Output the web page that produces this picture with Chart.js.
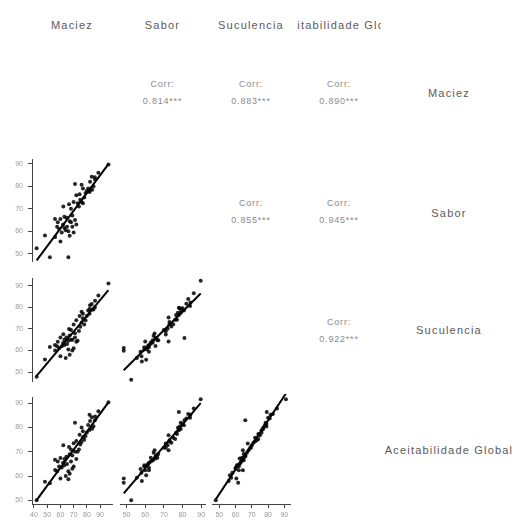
<!DOCTYPE html>
<html>
<head>
<meta charset="utf-8">
<script src="https://cdn.jsdelivr.net/npm/chart.js@4.4.0/dist/chart.umd.min.js"></script>
<style>
body { margin:0; background:#fff; width:516px; height:523px; position:relative; overflow:hidden; font-family:"Liberation Sans", Arial, sans-serif; }
.lab { position:absolute; color:#5a5a5a; font-size:11px; letter-spacing:1.2px; line-height:14px; white-space:nowrap; overflow:hidden; display:flex; justify-content:center; }
.corr { position:absolute; color:#8a8a8a; font-size:9px; letter-spacing:0.8px; line-height:17px; white-space:nowrap; text-align:center; width:80px; }
.panel { position:absolute; }
</style>
</head>
<body>
<script>
// variables in the pairs plot
var varNames = ['Maciez', 'Sabor', 'Suculencia', 'Aceitabilidade Global'];

var maciez = [42, 48.3, 52, 66, 60, 64, 67, 69, 56, 59, 61, 63, 65, 62, 58, 55.9, 66, 68, 70, 72,
    64.5, 67, 69, 71, 62.2, 60, 73, 74, 66.5, 75, 76, 78, 72, 77, 74.5, 79, 71, 80, 82, 76,
    84, 81, 85, 82, 82.4, 86, 83.7, 86.2, 88.7, 96.3, 70, 77, 63, 57.5, 68];
var sabor = [52.5, 58.2, 48.5, 48.5, 55.5, 60.5, 58, 62, 57.5, 61, 59.5, 61.5, 62, 63, 64, 65.5, 60, 64, 59.5, 63,
    66, 64.5, 67, 65, 71, 65.5, 72.5, 71, 72, 74, 73, 75, 76, 72.5, 76.5, 77, 81, 78, 77.5, 80.7,
    78.5, 79, 80, 78, 82, 84, 84.2, 83, 86, 89.7, 73, 79, 66.5, 62, 70];
var suculencia = [47.8, 55.8, 61.6, 60.5, 57.3, 56.5, 58, 60, 60, 61, 62, 62.5, 63, 63.5, 64, 62.5, 64.5, 65, 61, 64,
    66, 67, 65, 68, 67.5, 66, 64.5, 69, 70, 71, 73, 72, 74, 75, 76, 74, 66, 76, 77, 78,
    79, 78.5, 79, 79.2, 81, 80, 81.5, 83, 85.5, 91, 72, 77, 65, 62, 69.5];
var aceitabilidade = [50, 57.7, 57, 58.7, 59, 60, 61, 63, 62.5, 64, 63.5, 64.5, 65, 65.5, 66, 66.7, 62, 66, 64, 67,
    68, 69, 68.5, 70, 72.7, 67.5, 70, 71, 72, 73, 74, 75, 74.5, 76, 77, 76.5, 82, 78, 79, 80,
    79.5, 81, 80.5, 85.3, 82.7, 83, 84.2, 84.5, 86.7, 90.4, 73.5, 78.5, 67, 62, 71];

// upper triangle correlations
var corrRows = [0, 0, 0, 1, 1, 2];
var corrCols = [1, 2, 3, 2, 3, 3];
var corrValues = ['0.814***', '0.883***', '0.890***', '0.855***', '0.945***', '0.922***'];

// axis range per variable
var axisMin = [38.5, 46.5, 45.5, 48.5];
var axisMax = [99, 92, 93.5, 92.5];

var allVars = [maciez, sabor, suculencia, aceitabilidade];

// layout of the grid
var colLeft = [32, 120, 212, 297];
var colWidth = [80, 85, 78, 84];
var rowTop = [40, 156, 275, 394];
var rowHeight = [110, 109, 110, 110];
var headerY = 25;
var rowLabelY = [93, 213, 330, 450];
var corrY = [84, 203, 322];

function addDiv(cls, text, left, top, width) {
    var d = document.createElement('div');
    d.className = cls;
    d.textContent = text;
    d.style.left = left + 'px';
    d.style.top = top + 'px';
    if (width) d.style.width = width + 'px';
    document.body.appendChild(d);
    return d;
}

function fitLine(xs, ys) {
    var n = xs.length, mx = 0, my = 0, sxy = 0, sxx = 0;
    for (var i = 0; i < n; i++) { mx += xs[i]; my += ys[i]; }
    mx /= n; my /= n;
    for (var j = 0; j < n; j++) {
        sxy += (xs[j] - mx) * (ys[j] - my);
        sxx += (xs[j] - mx) * (xs[j] - mx);
    }
    var b = sxy / sxx, a = my - b * mx;
    var x0 = Math.min.apply(null, xs), x1 = Math.max.apply(null, xs);
    return [{x: x0, y: a + b * x0}, {x: x1, y: a + b * x1}];
}

function makePanel(row, col) {
    var PAD = 6;
    var L = col == 0 ? 33 : 0;
    var B = row == 3 ? 20 : 0;
    var w = colWidth[col], h = rowHeight[row];

    var div = document.createElement('div');
    div.className = 'panel';
    div.style.left = (colLeft[col] - L - PAD) + 'px';
    div.style.top = (rowTop[row] - PAD) + 'px';
    var cv = document.createElement('canvas');
    cv.width = w + L + 2 * PAD;
    cv.height = h + B + 2 * PAD;
    div.appendChild(cv);
    document.body.appendChild(div);

    var xs = allVars[col], ys = allVars[row];
    var pts = xs.map(function(v, i) { return {x: v, y: ys[i]}; });

    var axisStyle = {
        border: {display: true, color: '#444', width: 1},
        grid: {drawOnChartArea: false, drawTicks: true, tickLength: 4, color: '#444'},
    };

    new Chart(cv.getContext('2d'), {
        type: 'scatter',
        data: {
            datasets: [{
                type: 'line',
                data: fitLine(xs, ys),
                borderColor: '#000',
                borderWidth: 2,
                pointRadius: 0,
                fill: false
            }, {
                data: pts,
                backgroundColor: 'rgba(0,0,0,0.85)',
                borderWidth: 0,
                pointRadius: 2
            }]
        },
        options: {
            responsive: false,
            animation: false,
            devicePixelRatio: 1,
            layout: {padding: PAD},
            plugins: {legend: {display: false}, tooltip: {enabled: false}},
            scales: {
                x: Object.assign({
                    type: 'linear',
                    display: row == 3,
                    min: axisMin[col], max: axisMax[col],
                    afterFit: function(s) { s.height = B; },
                    ticks: {stepSize: 10, includeBounds: false, padding: 3, color: '#999',
                        font: {size: 7, family: 'Liberation Sans'}, maxRotation: 0, autoSkip: false}
                }, axisStyle),
                y: Object.assign({
                    type: 'linear',
                    display: col == 0,
                    min: axisMin[row], max: axisMax[row],
                    afterFit: function(s) { s.width = L; },
                    ticks: {stepSize: 10, includeBounds: false, padding: 5, color: '#999',
                        font: {size: 7, family: 'Liberation Sans'}}
                }, axisStyle)
            }
        }
    });
}

// column headers
for (var c = 0; c < 4; c++) {
    addDiv('lab', varNames[c], colLeft[c], headerY - 7, colWidth[c]);
}
// row labels on the right
for (var r = 0; r < 4; r++) {
    addDiv('lab', varNames[r], 382, rowLabelY[r] - 7, 134);
}
// correlations
for (var k = 0; k < corrValues.length; k++) {
    var cc = corrCols[k];
    var cx = colLeft[cc] + colWidth[cc] / 2;
    addDiv('corr', 'Corr:', cx - 40, corrY[corrRows[k]] - 8);
    addDiv('corr', corrValues[k], cx - 40, corrY[corrRows[k]] + 9);
}
// scatter panels
for (var rr = 1; rr < 4; rr++) {
    for (var cc2 = 0; cc2 < rr; cc2++) {
        makePanel(rr, cc2);
    }
}
</script>
</body>
</html>
